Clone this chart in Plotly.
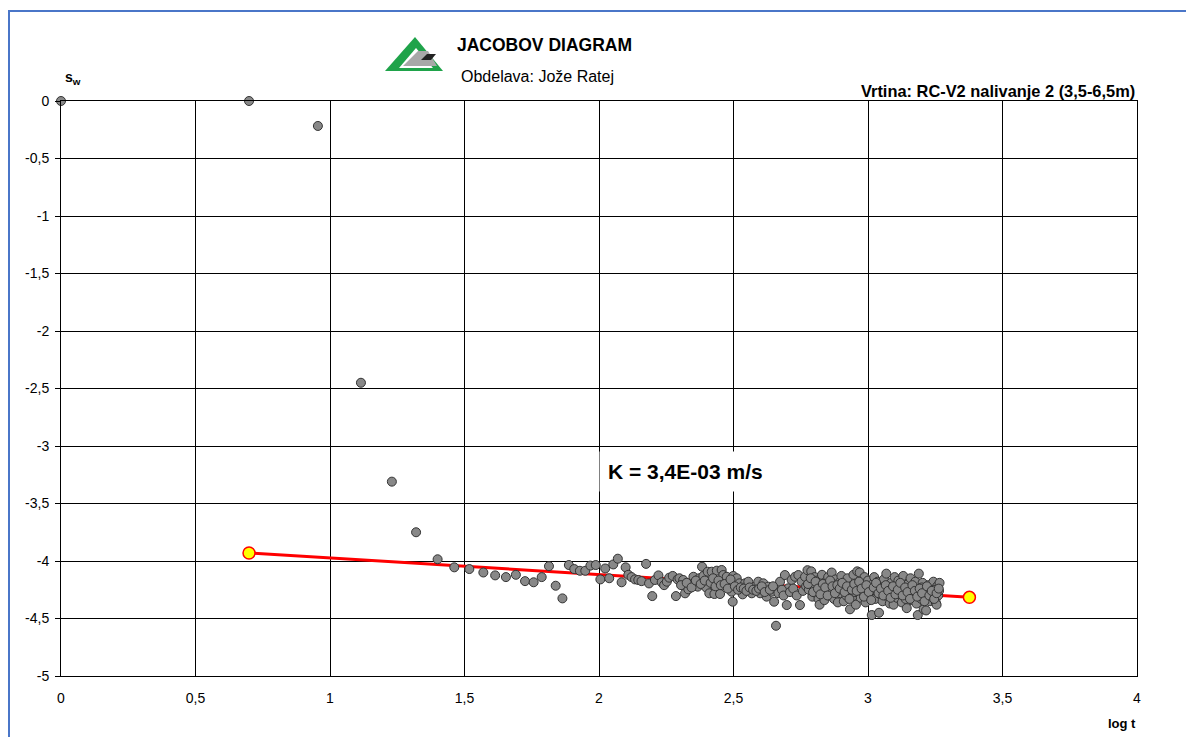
import plotly.graph_objects as go

# ---------------- data ----------------
# measured points: log t  and  s_w
logt_early = [0.000, 0.699, 0.955, 1.115, 1.230, 1.320, 1.400, 1.462, 1.518, 1.570,
              1.614, 1.654, 1.691, 1.725, 1.757, 1.787, 1.814, 1.839, 1.864, 1.888,
              1.908, 1.929, 1.949, 1.968, 1.988, 2.005, 2.023, 2.038, 2.053, 2.070,
              2.084, 2.099, 2.109, 2.121, 2.134, 2.146, 2.158, 2.175, 2.186, 2.198,
              2.208, 2.221, 2.233, 2.242, 2.252, 2.261, 2.274, 2.286, 2.292]
sw_early = [0.000, 0.000, -0.217, -2.450, -3.310, -3.750, -3.985, -4.055, -4.070, -4.100,
            -4.125, -4.140, -4.120, -4.175, -4.185, -4.140, -4.045, -4.215, -4.325, -4.035,
            -4.070, -4.085, -4.085, -4.040, -4.035, -4.160, -4.065, -4.150, -4.030, -3.980,
            -4.185, -4.055, -4.120, -4.140, -4.160, -4.165, -4.175, -4.025, -4.195, -4.305,
            -4.165, -4.125, -4.185, -4.210, -4.180, -4.145, -4.130, -4.305, -4.160]

logt_mid = [2.299, 2.313, 2.320, 2.332, 2.338, 2.351, 2.367, 2.373, 2.383, 2.388,
            2.398, 2.404, 2.410, 2.419, 2.429, 2.438, 2.450, 2.456, 2.462, 2.475,
            2.484, 2.493, 2.497, 2.499, 2.512, 2.522, 2.534, 2.543, 2.555, 2.568,
            2.580, 2.592, 2.599, 2.611, 2.623, 2.629, 2.642, 2.651, 2.658, 2.661,
            2.673, 2.691, 2.698, 2.704, 2.716, 2.729, 2.741, 2.747, 2.753, 2.766,
            2.305, 2.326, 2.344, 2.360, 2.378, 2.393, 2.415, 2.424, 2.433, 2.444,
            2.453, 2.467, 2.479, 2.489, 2.505, 2.517, 2.527, 2.538, 2.548, 2.560,
            2.573, 2.585, 2.595, 2.605, 2.616, 2.635, 2.647, 2.667, 2.680, 2.686,
            2.710, 2.722, 2.735, 2.758, 2.770]
sw_mid = [-4.150, -4.165, -4.281, -4.246, -4.194, -4.137, -4.223, -4.150, -4.050, -4.130,
          -4.229, -4.093, -4.281, -4.093, -4.287, -4.084, -4.287, -4.078, -4.122, -4.137,
          -4.194, -4.267, -4.354, -4.130, -4.150, -4.194, -4.290, -4.194, -4.180, -4.281,
          -4.223, -4.180, -4.281, -4.194, -4.310, -4.223, -4.267, -4.354, -4.563, -4.223,
          -4.180, -4.122, -4.383, -4.237, -4.165, -4.137, -4.122, -4.383, -4.180, -4.137,
          -4.21, -4.19, -4.23, -4.17, -4.20, -4.17, -4.19, -4.15, -4.22, -4.17,
          -4.21, -4.20, -4.24, -4.16, -4.22, -4.25, -4.23, -4.24, -4.26, -4.23,
          -4.25, -4.26, -4.24, -4.22, -4.27, -4.25, -4.22, -4.28, -4.25, -4.30,
          -4.27, -4.24, -4.30, -4.26, -4.22]

logt_late = [2.775, 2.780, 2.784, 2.789, 2.793, 2.798, 2.802, 2.807, 2.811, 2.816,
             2.820, 2.825, 2.829, 2.834, 2.838, 2.843, 2.847, 2.852, 2.856, 2.861,
             2.865, 2.870, 2.874, 2.879, 2.883, 2.888, 2.892, 2.897, 2.901, 2.906,
             2.910, 2.915, 2.919, 2.924, 2.928, 2.933, 2.937, 2.942, 2.946, 2.951,
             2.955, 2.960, 2.964, 2.969, 2.973, 2.978, 2.982, 2.987, 2.991, 2.996,
             3.000, 3.005, 3.009, 3.014, 3.018, 3.023, 3.027, 3.032, 3.036, 3.041,
             3.045, 3.050, 3.054, 3.059, 3.063, 3.068, 3.072, 3.077, 3.081, 3.086,
             3.090, 3.095, 3.099, 3.104, 3.108, 3.113, 3.117, 3.122, 3.126, 3.131,
             3.135, 3.140, 3.144, 3.149, 3.153, 3.158, 3.162, 3.167, 3.171, 3.176,
             3.180, 3.185, 3.189, 3.194, 3.198, 3.203, 3.207, 3.212, 3.216, 3.221,
             3.225, 3.230, 3.234, 3.239, 3.243, 3.248, 3.252, 3.257, 3.261, 3.266,
             3.264, 3.255, 3.245, 3.228, 3.200]
sw_late = [-4.08, -4.25, -4.19, -4.09, -4.31, -4.22, -4.14, -4.28, -4.17, -4.33,
           -4.38, -4.21, -4.12, -4.26, -4.34, -4.18, -4.24, -4.14, -4.30, -4.20,
           -4.10, -4.27, -4.33, -4.16, -4.23, -4.36, -4.19, -4.28, -4.13, -4.25,
           -4.35, -4.21, -4.30, -4.15, -4.26, -4.42, -4.22, -4.31, -4.12, -4.27,
           -4.38, -4.09, -4.24, -4.10, -4.32, -4.19, -4.28, -4.14, -4.36, -4.23,
           -4.17, -4.30, -4.25, -4.47, -4.20, -4.14, -4.33, -4.26, -4.18, -4.45,
           -4.29, -4.21, -4.35, -4.16, -4.27, -4.11, -4.31, -4.23, -4.37, -4.19,
           -4.28, -4.38, -4.14, -4.25, -4.32, -4.17, -4.29, -4.22, -4.36, -4.13,
           -4.26, -4.33, -4.41, -4.20, -4.28, -4.15, -4.34, -4.24, -4.30, -4.18,
           -4.37, -4.47, -4.11, -4.27, -4.33, -4.19, -4.42, -4.25, -4.43, -4.29,
           -4.21, -4.35, -4.24, -4.31, -4.18, -4.28, -4.36, -4.22, -4.30, -4.19,
           -4.26, -4.38, -4.25, -4.27, -4.23]

logt_late2 = [2.777, 2.787, 2.796, 2.805, 2.814, 2.823, 2.832, 2.841, 2.850, 2.859,
              2.868, 2.877, 2.886, 2.895, 2.904, 2.913, 2.922, 2.931, 2.940, 2.949,
              2.958, 2.967, 2.976, 2.985, 2.994, 3.003, 3.012, 3.021, 3.030, 3.039,
              3.048, 3.057, 3.066, 3.075, 3.084, 3.093, 3.102, 3.111, 3.120, 3.129,
              3.138, 3.147, 3.156, 3.165, 3.174, 3.183, 3.192, 3.201, 3.210, 3.219,
              3.228, 3.237, 3.246, 3.255, 3.263]
sw_late2 = [-4.20, -4.15, -4.27, -4.18, -4.24, -4.29, -4.20, -4.23, -4.30, -4.17,
            -4.22, -4.28, -4.21, -4.24, -4.19, -4.27, -4.22, -4.33, -4.25, -4.20,
            -4.26, -4.18, -4.24, -4.31, -4.21, -4.27, -4.34, -4.23, -4.19, -4.28,
            -4.24, -4.30, -4.21, -4.26, -4.32, -4.22, -4.29, -4.25, -4.19, -4.30,
            -4.23, -4.27, -4.33, -4.21, -4.26, -4.31, -4.24, -4.28, -4.35, -4.22,
            -4.30, -4.26, -4.33, -4.28, -4.24]

# Jacob straight line (fit)
fit_logt = [0.699, 3.377]
fit_sw = [-3.930, -4.316]

x_tickvals = [0, 0.5, 1, 1.5, 2, 2.5, 3, 3.5, 4]
x_ticktext = ["0", "0,5", "1", "1,5", "2", "2,5", "3", "3,5", "4"]
y_tickvals = [0, -0.5, -1, -1.5, -2, -2.5, -3, -3.5, -4, -4.5, -5]
y_ticktext = ["0", "-0,5", "-1", "-1,5", "-2", "-2,5", "-3", "-3,5", "-4", "-4,5", "-5"]

title_text = "JACOBOV DIAGRAM"
author_text = "Obdelava: Jože Ratej"
well_text = "Vrtina: RC-V2 nalivanje 2 (3,5-6,5m)"
k_text = "K = 3,4E-03 m/s"

FONT = "Liberation Sans, Arial, sans-serif"

# ---------------- figure ----------------
fig = go.Figure()

fig.add_trace(go.Scatter(
    x=fit_logt, y=fit_sw, mode="lines",
    line=dict(color="#ff0000", width=3),
    cliponaxis=False, hoverinfo="skip", showlegend=False))

logt_all = logt_early + logt_mid + logt_late + logt_late2
sw_all = sw_early + sw_mid + sw_late + sw_late2
fig.add_trace(go.Scatter(
    x=logt_all, y=sw_all, mode="markers",
    marker=dict(size=9, color="#888888", line=dict(color="#333333", width=1)),
    cliponaxis=False, showlegend=False))

fig.add_trace(go.Scatter(
    x=fit_logt, y=fit_sw, mode="markers",
    marker=dict(size=12, color="#ffff00", line=dict(color="#ff0000", width=1.5)),
    cliponaxis=False, showlegend=False))

# page has an 8px body margin -> figure coordinates = screen - 8
OFF = 8
W, H = 1194 - 2 * OFF, 729
L, R, T, B = 61 - OFF, W - (1137 - OFF), 101 - OFF, H - (676 - OFF)
pw, ph = W - L - R, H - T - B


def px(xp):
    return (xp - OFF - L) / pw


def py(yp):
    return (H - B - (yp - OFF)) / ph


annotations = [
    dict(text="<b>" + title_text + "</b>", x=px(455), y=py(45), xref="paper", yref="paper",
         xanchor="left", yanchor="middle", showarrow=False,
         font=dict(family=FONT, size=17.5, color="#000000")),
    dict(text=author_text, x=px(459), y=py(76), xref="paper", yref="paper",
         xanchor="left", yanchor="middle", showarrow=False,
         font=dict(family=FONT, size=16, color="#000000")),
    dict(text="<b>" + well_text + "</b>", x=1.0, y=py(91), xref="paper", yref="paper",
         xanchor="right", yanchor="middle", showarrow=False,
         font=dict(family=FONT, size=16.4, color="#000000")),
    dict(text="<b>s<sub>w</sub></b>", x=px(63), y=py(78), xref="paper", yref="paper",
         xanchor="left", yanchor="middle", showarrow=False,
         font=dict(family=FONT, size=14, color="#000000")),
    dict(text="<b>log t</b>", x=px(1122), y=py(723), xref="paper", yref="paper",
         xanchor="center", yanchor="middle", showarrow=False,
         font=dict(family=FONT, size=13, color="#000000")),
    dict(text="<b>" + k_text + "</b>", x=px(685), y=py(471), xref="paper", yref="paper",
         xanchor="center", yanchor="middle", showarrow=False, bgcolor="#ffffff",
         borderpad=8, font=dict(family=FONT, size=21, color="#000000")),
]

BLUE = "#4a76c8"
shapes = [
    # outer frame (blue): thin filled bars along the top and left edges
    dict(type="rect", xref="paper", yref="paper", x0=px(8), x1=px(1186), y0=py(10), y1=py(12),
         fillcolor=BLUE, line=dict(width=0), layer="below"),
    dict(type="rect", xref="paper", yref="paper", x0=px(8), x1=px(10), y0=py(10), y1=py(737),
         fillcolor=BLUE, line=dict(width=0), layer="below"),
    # logo
    dict(type="path", xref="paper", yref="paper", fillcolor="#1fa34a", line=dict(width=0),
         path=f"M {px(385)},{py(71)} L {px(415)},{py(37)} L {px(443)},{py(71)} Z"),
    dict(type="path", xref="paper", yref="paper", fillcolor="#ffffff", line=dict(width=0),
         path=f"M {px(399)},{py(68)} L {px(416)},{py(48)} L {px(433)},{py(68)} Z"),
    dict(type="path", xref="paper", yref="paper", fillcolor="#a8a8a8", line=dict(width=0),
         path=f"M {px(403)},{py(66)} L {px(418)},{py(51)} L {px(428)},{py(51)} L {px(437)},{py(66)} Z"),
    dict(type="path", xref="paper", yref="paper", fillcolor="#222222", line=dict(width=0),
         path=f"M {px(421)},{py(60)} L {px(427)},{py(54)} L {px(436)},{py(54)} L {px(431)},{py(60)} Z"),
]

fig.update_layout(
    width=W, height=H,
    margin=dict(l=L, r=R, t=T, b=B),
    paper_bgcolor="#ffffff", plot_bgcolor="#ffffff",
    font=dict(family=FONT, size=14, color="#000000"),
    showlegend=False,
    annotations=annotations,
    shapes=shapes,
    xaxis=dict(range=[0, 4], tickvals=x_tickvals, ticktext=x_ticktext,
               showgrid=True, gridcolor="#000000", gridwidth=1,
               zeroline=False, showline=True, linecolor="#000000", linewidth=1, mirror=True,
               ticks="", ticklabelstandoff=9, tickfont=dict(family=FONT, size=14)),
    yaxis=dict(range=[-5, 0], tickvals=y_tickvals, ticktext=y_ticktext,
               showgrid=True, gridcolor="#000000", gridwidth=1,
               zeroline=False, showline=True, linecolor="#000000", linewidth=1, mirror=True,
               ticks="outside", ticklen=5, tickcolor="#000000",
               ticklabelstandoff=3, tickfont=dict(family=FONT, size=14)),
)

fig.write_html("out.html")
